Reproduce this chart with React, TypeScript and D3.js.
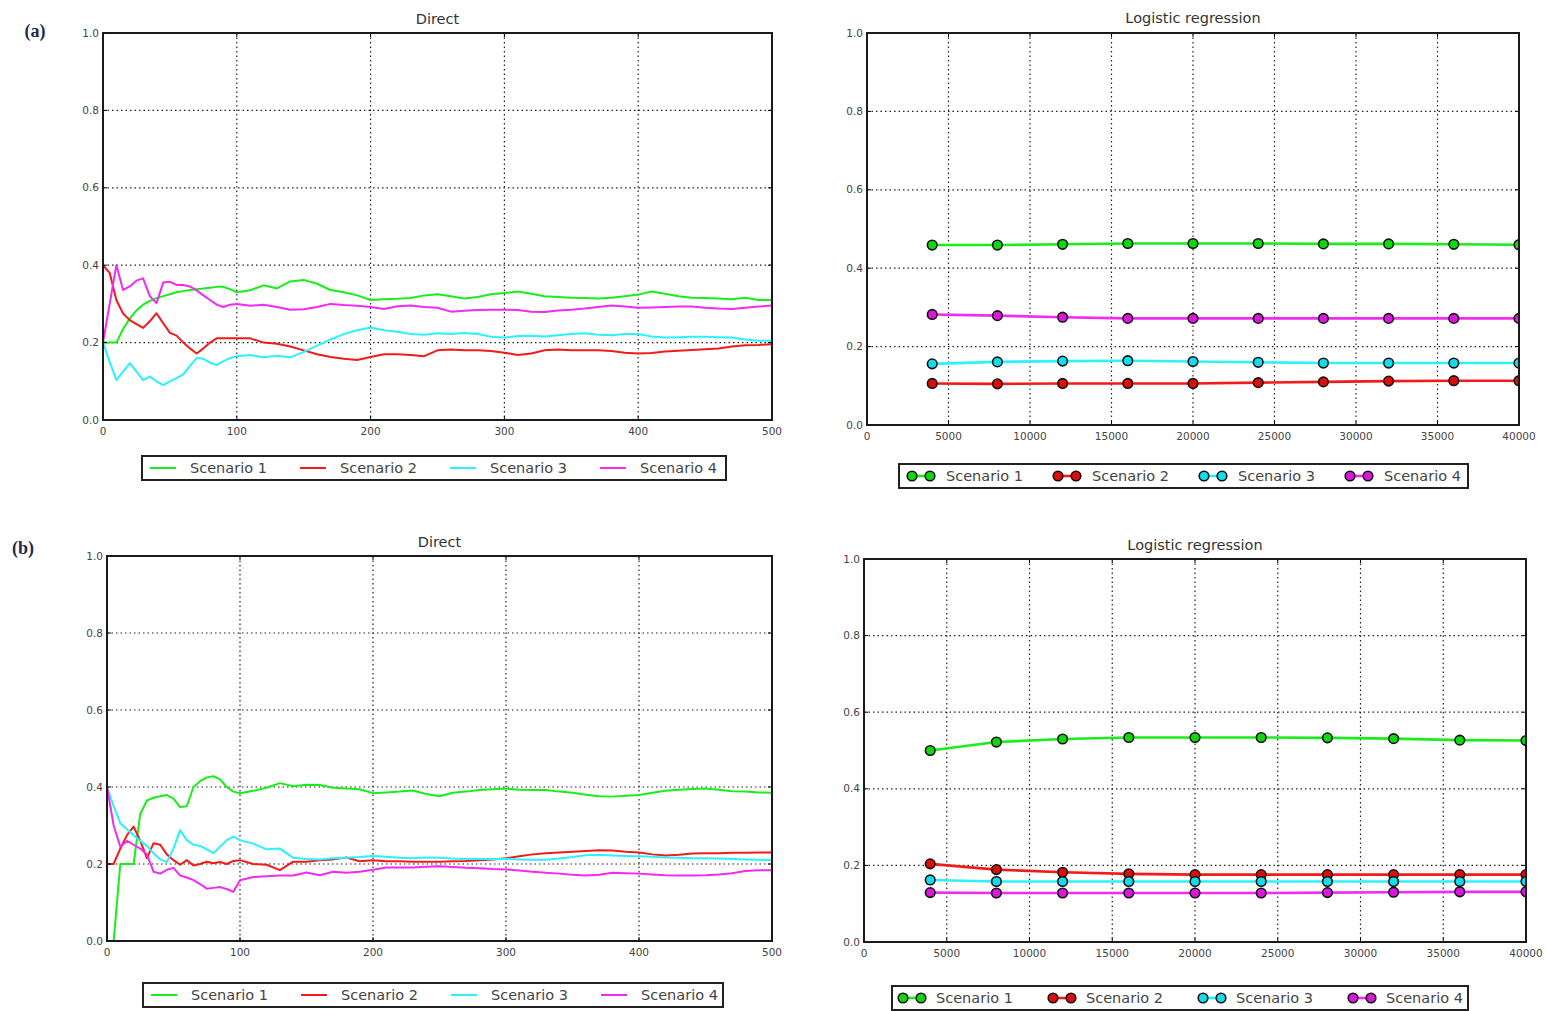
import { useEffect, useRef } from 'react';
import * as d3 from 'd3';

const SCENARIOS = ['Scenario 1', 'Scenario 2', 'Scenario 3', 'Scenario 4'];
const COLORS = ['#1aee1a', '#f41a1a', '#2af2ff', '#f22af2'];
const MARKER_FILLS = ['#10d810', '#dd0d0d', '#14dcea', '#da18da'];

// iterations for the "Direct" panels
const directX = [
  0, 5, 10, 15, 20, 25, 30, 35, 40, 45, 50, 55, 60, 65, 70, 75, 80, 85, 90, 95, 100,
  110, 120, 130, 140, 150, 160, 170, 180, 190, 200, 210, 220, 230, 240, 250, 260, 270, 280, 290, 300,
  310, 320, 330, 340, 350, 360, 370, 380, 390, 400, 410, 420, 430, 440, 450, 460, 470, 480, 490, 500,
];

// (a) Direct
const directA1 = [
  0.2, 0.2, 0.2, 0.235, 0.262, 0.283, 0.298, 0.308, 0.315, 0.32, 0.325, 0.33, 0.333, 0.336, 0.338, 0.34, 0.342, 0.344, 0.344, 0.338, 0.33,
  0.335, 0.348, 0.34, 0.358, 0.362, 0.352, 0.336, 0.33, 0.322, 0.31, 0.312, 0.313, 0.315, 0.322, 0.325, 0.32, 0.314, 0.318, 0.325, 0.328,
  0.332, 0.326, 0.32, 0.318, 0.316, 0.315, 0.314, 0.316, 0.32, 0.324, 0.332, 0.326, 0.32, 0.316, 0.315, 0.314, 0.312, 0.316, 0.31, 0.31,
];
const directA2 = [
  0.4, 0.38, 0.31, 0.275, 0.258, 0.248, 0.238, 0.255, 0.276, 0.25, 0.225, 0.218, 0.2, 0.185, 0.172, 0.185, 0.2, 0.211, 0.211, 0.211, 0.211,
  0.211, 0.2, 0.197, 0.19, 0.18, 0.17, 0.163, 0.158, 0.155, 0.163, 0.17, 0.17, 0.168, 0.165, 0.18, 0.182, 0.18, 0.18, 0.178, 0.174,
  0.168, 0.172, 0.18, 0.182, 0.18, 0.18, 0.18, 0.178, 0.174, 0.172, 0.173, 0.177, 0.179, 0.181, 0.183, 0.185, 0.19, 0.193, 0.194, 0.196,
];
const directA3 = [
  0.2, 0.15, 0.103, 0.125, 0.147, 0.125, 0.103, 0.112, 0.1, 0.09, 0.1, 0.108, 0.118, 0.14, 0.16, 0.158, 0.148, 0.142, 0.152, 0.16, 0.165,
  0.168, 0.162, 0.166, 0.162, 0.176, 0.192, 0.208, 0.222, 0.232, 0.239, 0.232, 0.228, 0.222, 0.22, 0.224, 0.222, 0.225, 0.222, 0.215, 0.213,
  0.217, 0.218, 0.216, 0.219, 0.222, 0.224, 0.22, 0.219, 0.222, 0.222, 0.216, 0.213, 0.214, 0.215, 0.215, 0.214, 0.213, 0.208, 0.205, 0.205,
];
const directA4 = [
  0.2, 0.3, 0.4, 0.336, 0.345, 0.36, 0.366, 0.32, 0.302, 0.355, 0.357, 0.349, 0.349, 0.345, 0.335, 0.322, 0.31, 0.298, 0.292, 0.298, 0.3,
  0.295, 0.298, 0.292, 0.285, 0.286, 0.292, 0.3, 0.297, 0.295, 0.292, 0.287, 0.294, 0.296, 0.292, 0.29, 0.28, 0.282, 0.284, 0.285, 0.285,
  0.284, 0.28, 0.279, 0.283, 0.285, 0.288, 0.292, 0.296, 0.293, 0.29, 0.291, 0.292, 0.293, 0.293, 0.29, 0.288, 0.287, 0.29, 0.293, 0.296,
];

// (b) Direct
const directB1 = [
  0, 0, 0.2, 0.2, 0.2, 0.33, 0.365, 0.372, 0.376, 0.379, 0.37, 0.348, 0.35, 0.4, 0.415, 0.425, 0.428, 0.42, 0.4, 0.388, 0.384,
  0.39, 0.398, 0.41, 0.402, 0.406, 0.405, 0.398, 0.396, 0.394, 0.384, 0.386, 0.388, 0.391, 0.382, 0.376, 0.385, 0.388, 0.392, 0.394, 0.396,
  0.393, 0.392, 0.392, 0.388, 0.385, 0.38, 0.376, 0.375, 0.377, 0.379, 0.385, 0.39, 0.393, 0.395, 0.396, 0.393, 0.389, 0.388, 0.386, 0.385,
];
const directB2 = [
  0.2, 0.2, 0.24, 0.275, 0.297, 0.26, 0.215, 0.254, 0.25, 0.225, 0.21, 0.198, 0.21, 0.196, 0.2, 0.206, 0.202, 0.205, 0.2, 0.208, 0.21,
  0.2, 0.198, 0.184, 0.206, 0.206, 0.21, 0.212, 0.217, 0.207, 0.21, 0.207, 0.207, 0.206, 0.206, 0.206, 0.207, 0.208, 0.21, 0.212, 0.215,
  0.22, 0.225, 0.228, 0.23, 0.232, 0.234, 0.236, 0.235, 0.232, 0.23, 0.225, 0.222, 0.224, 0.227, 0.228, 0.228, 0.229, 0.229, 0.23, 0.23,
];
const directB3 = [
  0.4, 0.35, 0.306, 0.29, 0.275, 0.26, 0.247, 0.228, 0.212, 0.205, 0.24, 0.288, 0.262, 0.25, 0.247, 0.238, 0.228, 0.245, 0.262, 0.271, 0.262,
  0.253, 0.238, 0.24, 0.216, 0.213, 0.212, 0.215, 0.216, 0.218, 0.221, 0.219, 0.216, 0.215, 0.217, 0.216, 0.214, 0.213, 0.213, 0.213, 0.213,
  0.212, 0.211, 0.211, 0.214, 0.218, 0.223, 0.224, 0.222, 0.221, 0.22, 0.219, 0.217, 0.216, 0.215, 0.215, 0.214, 0.213, 0.212, 0.211, 0.21,
];
const directB4 = [
  0.4, 0.3, 0.245, 0.26, 0.25, 0.24, 0.225, 0.18, 0.175, 0.185, 0.19, 0.17, 0.165, 0.158, 0.148, 0.136, 0.138, 0.14, 0.135, 0.128, 0.158,
  0.166, 0.168, 0.17, 0.17, 0.178, 0.171, 0.18, 0.177, 0.18, 0.185, 0.191, 0.191, 0.191, 0.193, 0.194, 0.192, 0.19, 0.189, 0.187, 0.186,
  0.183, 0.18, 0.177, 0.175, 0.172, 0.17, 0.172, 0.177, 0.176, 0.175, 0.173, 0.171, 0.17, 0.17, 0.171, 0.173, 0.176, 0.182, 0.184, 0.184,
];

// sample sizes for the "Logistic regression" panels
const logisticX = [4000, 8000, 12000, 16000, 20000, 24000, 28000, 32000, 36000, 40000];

const logisticA1 = [0.459, 0.459, 0.461, 0.463, 0.463, 0.463, 0.462, 0.462, 0.461, 0.46];
const logisticA2 = [0.106, 0.105, 0.106, 0.106, 0.106, 0.108, 0.11, 0.112, 0.113, 0.113];
const logisticA3 = [0.156, 0.161, 0.163, 0.164, 0.162, 0.16, 0.158, 0.158, 0.158, 0.158];
const logisticA4 = [0.282, 0.279, 0.275, 0.272, 0.272, 0.272, 0.272, 0.272, 0.272, 0.272];

const logisticB1 = [0.5, 0.522, 0.53, 0.534, 0.534, 0.534, 0.533, 0.531, 0.527, 0.526];
const logisticB2 = [0.204, 0.189, 0.182, 0.178, 0.176, 0.176, 0.176, 0.176, 0.176, 0.176];
const logisticB3 = [0.162, 0.158, 0.158, 0.158, 0.158, 0.158, 0.158, 0.158, 0.158, 0.158];
const logisticB4 = [0.129, 0.128, 0.128, 0.128, 0.128, 0.128, 0.129, 0.13, 0.131, 0.131];

const directXTicks = [0, 100, 200, 300, 400, 500];
const logisticXTicks = [0, 5000, 10000, 15000, 20000, 25000, 30000, 35000, 40000];
const yTicks = [0, 0.2, 0.4, 0.6, 0.8, 1.0];

const FONT = '"DejaVu Sans", sans-serif';

type Panel = {
  id: string;
  left: number;
  right: number;
  top: number;
  bottom: number;
  xDomain: [number, number];
  xTicks: number[];
  xs: number[];
  series: number[][];
  title: string;
  titleY: number;
  markers: boolean;
};

type Legend = {
  x: number;
  y: number;
  w: number;
  h: number;
  step: number;
  sample: [number, number];
  textX: number;
  markers: boolean;
};

const drawPanel = (svg: any, p: Panel) => {
  const x = d3.scaleLinear().domain(p.xDomain).range([p.left, p.right]);
  const y = d3.scaleLinear().domain([0, 1]).range([p.bottom, p.top]);
  const g = svg.append('g');

  g.append('clipPath')
    .attr('id', `clip-${p.id}`)
    .append('rect')
    .attr('x', p.left)
    .attr('y', p.top)
    .attr('width', p.right - p.left)
    .attr('height', p.bottom - p.top);

  // dotted grid
  g.selectAll('line.vgrid')
    .data(p.xTicks.slice(1, -1))
    .enter()
    .append('line')
    .attr('x1', (d: number) => x(d))
    .attr('x2', (d: number) => x(d))
    .attr('y1', p.top)
    .attr('y2', p.bottom)
    .attr('stroke', '#222')
    .attr('stroke-width', 1.2)
    .attr('stroke-dasharray', '1.5,3');
  g.selectAll('line.hgrid')
    .data(yTicks.slice(1, -1))
    .enter()
    .append('line')
    .attr('x1', p.left)
    .attr('x2', p.right)
    .attr('y1', (d: number) => y(d))
    .attr('y2', (d: number) => y(d))
    .attr('stroke', '#222')
    .attr('stroke-width', 1.2)
    .attr('stroke-dasharray', '1.5,3');

  // series
  const line = d3
    .line<number>()
    .x((_d, i) => x(p.xs[i]))
    .y((d) => y(d));

  const plot = g.append('g').attr('clip-path', `url(#clip-${p.id})`);
  p.series.forEach((s, k) => {
    plot
      .append('path')
      .attr('d', line(s))
      .attr('fill', 'none')
      .attr('stroke', COLORS[k])
      .attr('stroke-width', p.markers ? 2.6 : 2)
      .attr('stroke-linejoin', 'round');
  });
  if (p.markers) {
    p.series.forEach((s, k) => {
      plot
        .selectAll(null)
        .data(s)
        .enter()
        .append('circle')
        .attr('cx', (_d: number, i: number) => x(p.xs[i]))
        .attr('cy', (d: number) => y(d))
        .attr('r', 4.8)
        .attr('fill', MARKER_FILLS[k])
        .attr('stroke', '#111')
        .attr('stroke-width', 1.6);
    });
  }

  // ticks pointing inwards on all four sides
  p.xTicks.forEach((t) => {
    g.append('line').attr('x1', x(t)).attr('x2', x(t)).attr('y1', p.bottom).attr('y2', p.bottom - 4).attr('stroke', '#000');
    g.append('line').attr('x1', x(t)).attr('x2', x(t)).attr('y1', p.top).attr('y2', p.top + 4).attr('stroke', '#000');
  });
  yTicks.forEach((t) => {
    g.append('line').attr('x1', p.left).attr('x2', p.left + 4).attr('y1', y(t)).attr('y2', y(t)).attr('stroke', '#000');
    g.append('line').attr('x1', p.right).attr('x2', p.right - 4).attr('y1', y(t)).attr('y2', y(t)).attr('stroke', '#000');
  });

  // frame
  g.append('rect')
    .attr('x', p.left)
    .attr('y', p.top)
    .attr('width', p.right - p.left)
    .attr('height', p.bottom - p.top)
    .attr('fill', 'none')
    .attr('stroke', '#1a1a1a')
    .attr('stroke-width', 2);

  // tick labels
  g.selectAll('text.ytick')
    .data(yTicks)
    .enter()
    .append('text')
    .attr('x', p.left - 4)
    .attr('y', (d: number) => y(d))
    .attr('dy', '0.35em')
    .attr('text-anchor', 'end')
    .style('font-family', FONT)
    .style('font-size', '10.5px')
    .style('fill', '#444')
    .text((d: number) => d3.format('.1f')(d));
  g.selectAll('text.xtick')
    .data(p.xTicks)
    .enter()
    .append('text')
    .attr('x', (d: number) => x(d))
    .attr('y', p.bottom + 11)
    .attr('dy', '0.35em')
    .attr('text-anchor', 'middle')
    .style('font-family', FONT)
    .style('font-size', '10.5px')
    .style('fill', '#444')
    .text((d: number) => String(d));

  // title
  g.append('text')
    .attr('x', (p.left + p.right) / 2)
    .attr('y', p.titleY)
    .attr('dy', '0.35em')
    .attr('text-anchor', 'middle')
    .style('font-family', FONT)
    .style('font-size', '14.5px')
    .style('fill', '#333')
    .text(p.title);
};

const drawLegend = (svg: any, l: Legend) => {
  const g = svg.append('g');
  g.append('rect')
    .attr('x', l.x)
    .attr('y', l.y)
    .attr('width', l.w)
    .attr('height', l.h)
    .attr('fill', '#fff')
    .attr('stroke', '#222')
    .attr('stroke-width', 2);
  const cy = l.y + l.h / 2;
  SCENARIOS.forEach((name, k) => {
    const ox = l.x + k * l.step;
    g.append('line')
      .attr('x1', ox + l.sample[0])
      .attr('x2', ox + l.sample[1])
      .attr('y1', cy)
      .attr('y2', cy)
      .attr('stroke', COLORS[k])
      .attr('stroke-width', l.markers ? 2.6 : 2);
    if (l.markers) {
      l.sample.forEach((sx) => {
        g.append('circle')
          .attr('cx', ox + sx)
          .attr('cy', cy)
          .attr('r', 4.8)
          .attr('fill', MARKER_FILLS[k])
          .attr('stroke', '#111')
          .attr('stroke-width', 1.6);
      });
    }
    g.append('text')
      .attr('x', ox + l.textX)
      .attr('y', cy)
      .attr('dy', '0.35em')
      .style('font-family', FONT)
      .style('font-size', '14.5px')
      .style('fill', '#444')
      .text(name);
  });
};

const App = () => {
  const svgRef = useRef<SVGSVGElement | null>(null);

  useEffect(() => {
    const svg = d3.select(svgRef.current);
    svg.selectAll('*').remove();

    svg.append('rect').attr('width', 1547).attr('height', 1011).attr('fill', '#fff');

    const panels: Panel[] = [
      {
        id: 'a-direct', left: 103, right: 772, top: 33, bottom: 420,
        xDomain: [0, 500], xTicks: directXTicks, xs: directX,
        series: [directA1, directA2, directA3, directA4],
        title: 'Direct', titleY: 19, markers: false,
      },
      {
        id: 'a-logistic', left: 867, right: 1519, top: 33, bottom: 425,
        xDomain: [0, 40000], xTicks: logisticXTicks, xs: logisticX,
        series: [logisticA1, logisticA2, logisticA3, logisticA4],
        title: 'Logistic regression', titleY: 18, markers: true,
      },
      {
        id: 'b-direct', left: 107, right: 772, top: 556, bottom: 941,
        xDomain: [0, 500], xTicks: directXTicks, xs: directX,
        series: [directB1, directB2, directB3, directB4],
        title: 'Direct', titleY: 542, markers: false,
      },
      {
        id: 'b-logistic', left: 864, right: 1526, top: 559, bottom: 942,
        xDomain: [0, 40000], xTicks: logisticXTicks, xs: logisticX,
        series: [logisticB1, logisticB2, logisticB3, logisticB4],
        title: 'Logistic regression', titleY: 545, markers: true,
      },
    ];
    panels.forEach((p) => drawPanel(svg, p));

    const legends: Legend[] = [
      { x: 142, y: 456, w: 584, h: 24, step: 150, sample: [8, 34], textX: 48, markers: false },
      { x: 899, y: 464, w: 569, h: 24, step: 146, sample: [13, 31], textX: 47, markers: true },
      { x: 143, y: 983, w: 580, h: 24, step: 150, sample: [8, 34], textX: 48, markers: false },
      { x: 892, y: 986, w: 576, h: 24, step: 150, sample: [11, 29], textX: 44, markers: true },
    ];
    legends.forEach((l) => drawLegend(svg, l));

    // panel labels
    [
      { t: '(a)', x: 35, y: 31 },
      { t: '(b)', x: 23, y: 548 },
    ].forEach((d) => {
      svg
        .append('text')
        .attr('x', d.x)
        .attr('y', d.y)
        .attr('dy', '0.35em')
        .attr('text-anchor', 'middle')
        .style('font-family', '"Liberation Serif", serif')
        .style('font-weight', 'bold')
        .style('font-size', '18px')
        .style('fill', '#1f2b4a')
        .text(d.t);
    });
  }, []);

  return (
    <div style={{ position: 'absolute', left: 0, top: 0 }}>
      <svg ref={svgRef} width={1547} height={1011} style={{ display: 'block' }} />
    </div>
  );
};

export default App;
